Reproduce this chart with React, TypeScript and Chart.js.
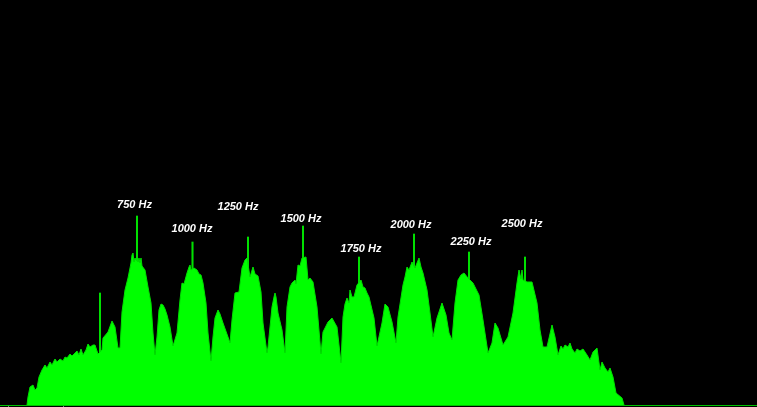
import React, { useEffect, useRef } from "react";
import { Chart, registerables } from "chart.js";

Chart.register(...registerables);

const spectrumBins = [27,28,30,33,35,37,39,42,45,47,50,52,55,57,60,63,65,67,70,72,75,77,79,81,83,86,88,90,93,95,98,102,103,108,112,115,118,120,122,125,128,131,132,133,134,135,136,138,139,140,141,142,145,148,151,153,155,157,159,161,163,165,167,170,173,177,180,182,184,187,189,190,191,194,197,199,201,203,206,208,211,213,215,218,220,223,228,230,232,235,239,242,245,247,250,253,255,258,261,263,267,268,272,274,275,276,278,282,285,287,290,292,295,296,298,300,302,306,308,310,313,317,321,323,328,332,337,341,343,345,347,349,350,352,354,357,361,363,365,367,369,374,377,382,385,388,392,396,398,403,405,407,409,412,415,417,419,421,423,427,430,433,437,442,446,449,452,455,458,461,464,468,473,479,483,488,492,495,498,503,508,513,517,519,521,522,523,527,532,537,540,543,547,552,555,558,561,563,565,568,570,572,575,577,580,583,587,590,593,597,600,602,605,608,610,613,616,622,624];
const spectrumLevels = [0,8,18,20,15,17,28,35,40,37,43,40,46,43,46,44,48,47,51,49,52,54,50,56,50,55,61,58,60,60,51,55,67,73,84,78,57,57,93,115,127,142,150,152,143,147,145,143,147,142,147,139,135,118,102,72,50,68,95,101,100,96,90,78,59,72,105,122,121,132,138,140,135,137,135,131,130,122,102,72,44,68,87,95,91,82,68,62,85,112,113,137,145,147,128,138,131,129,113,82,52,58,98,108,112,108,92,75,52,98,118,122,125,121,140,139,147,148,125,127,123,98,51,73,83,87,78,42,88,101,107,102,115,108,108,120,125,118,117,112,108,87,59,82,101,98,83,62,88,120,128,138,135,143,137,142,147,138,132,115,92,68,87,102,90,72,65,102,125,130,132,127,122,110,85,52,62,82,77,60,68,92,122,135,126,135,125,123,123,102,75,58,58,80,68,50,59,56,60,58,62,56,52,56,54,56,50,45,53,57,35,43,37,33,37,28,12,7,0];

const toneBins = [100,137,192.5,248,303,359,414,469,525];
const toneLevels = [112,189,163,168,179,148,171,153,148];

const noteLabels = ["750 Hz","1000 Hz","1250 Hz","1500 Hz","1750 Hz","2000 Hz","2250 Hz","2500 Hz"];
const noteLabelBins = [134.5,192,238,301,361,411,471,522];
const noteLabelLevels = [200,176,198.5,186,156,180,163,181];

const axisTickBins = [8,63];

const noteLabelPlugin = {
  id: "noteLabels",
  afterDatasetsDraw(chart: any) {
    const { ctx, scales } = chart;
    ctx.save();
    ctx.font = "italic bold 11px 'Liberation Sans', Arial, sans-serif";
    ctx.fillStyle = "#ffffff";
    ctx.textAlign = "center";
    ctx.textBaseline = "middle";
    noteLabels.forEach((t, i) => {
      ctx.fillText(t, scales.x.getPixelForValue(noteLabelBins[i]), scales.y.getPixelForValue(noteLabelLevels[i]));
    });
    ctx.restore();
  },
};

export default function App() {
  const ref = useRef<HTMLCanvasElement>(null);
  useEffect(() => {
    document.body.style.margin = "0";
    document.body.style.background = "#000000";
    const chart = new Chart(ref.current!, {
      type: "scatter",
      data: {
        datasets: [
          {
            type: "bar",
            data: toneBins.map((x, i) => ({ x, y: toneLevels[i] })),
            backgroundColor: "#00e000",
            barThickness: 1.4,
            order: 2,
          } as any,
          {
            type: "line",
            data: spectrumBins.map((x, i) => ({ x, y: spectrumLevels[i] })),
            borderColor: "#00e000",
            borderWidth: 1,
            backgroundColor: "#00ff00",
            fill: "origin",
            pointRadius: 0,
            tension: 0,
            order: 1,
          } as any,
        ],
      },
      options: {
        animation: false,
        responsive: false,
        maintainAspectRatio: false,
        layout: { padding: 0 },
        plugins: { legend: { display: false }, tooltip: { enabled: false } },
        scales: {
          x: {
            type: "linear",
            offset: false,
            min: 0,
            max: 757,
            afterBuildTicks: (axis: any) => {
              axis.ticks = axisTickBins.map((value) => ({ value }));
            },
            ticks: { display: false },
            border: { display: true, color: "#00c000", width: 1 },
            grid: { offset: false, drawOnChartArea: false, drawTicks: true, tickLength: 2, color: "#808080" },
          },
          y: { display: false, min: 0, max: 405 },
        },
      },
      plugins: [noteLabelPlugin],
    } as any);
    return () => chart.destroy();
  }, []);
  return <canvas ref={ref} width={757} height={407} style={{ display: "block", background: "#000000" }} />;
}
